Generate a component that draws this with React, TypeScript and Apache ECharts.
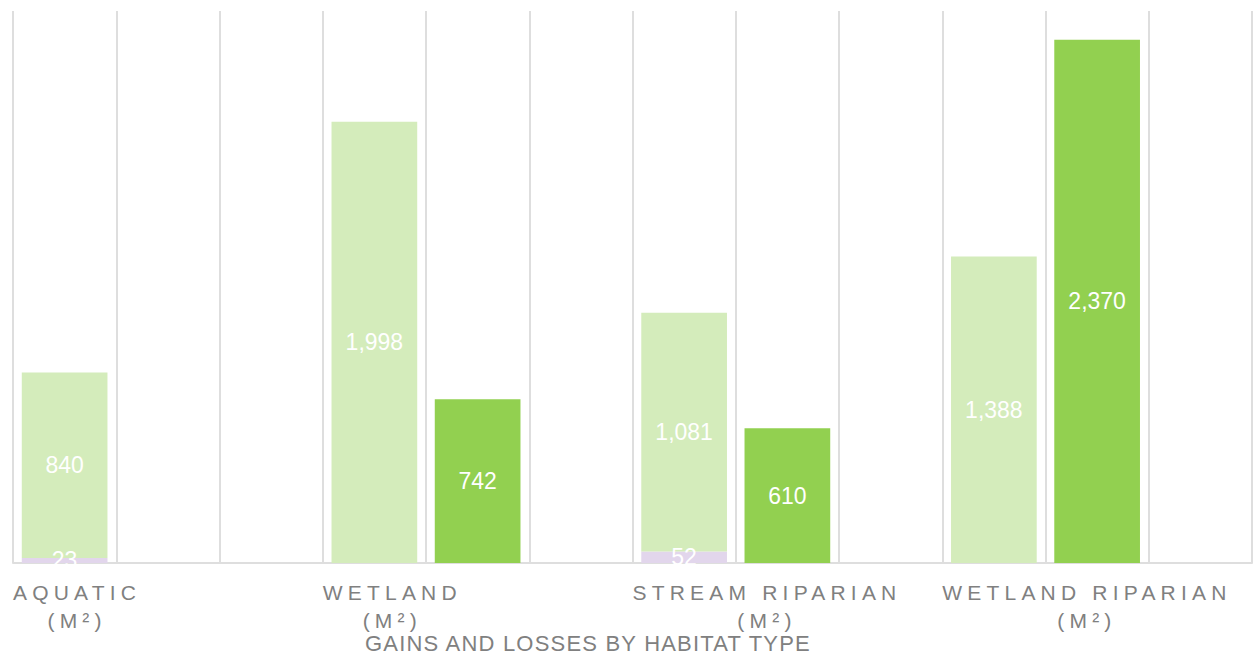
import React, { useEffect, useRef } from 'react';
import * as echarts from 'echarts';

const categories = ['AQUATIC', 'WETLAND', 'STREAM RIPARIAN', 'WETLAND RIPARIAN'];
const unitLabel = '(M²)';
const losses: (number | null)[] = [23, null, 52, null];
const gainsBefore: (number | null)[] = [840, 1998, 1081, 1388];
const gainsAfter: (number | null)[] = [null, 742, 610, 2370];
const chartTitle = 'GAINS AND LOSSES BY HABITAT TYPE';
const slotsPerGroup = 3;
const yMax = 2500;

const FONT = "'Liberation Sans', Arial, sans-serif";
const GREY = '#808080';
const GRID = '#dedede';

function toSlots(values: (number | null)[], offset: number): (number | null)[] {
  const out: (number | null)[] = [];
  values.forEach((v) => {
    for (let i = 0; i < slotsPerGroup; i++) out.push(i === offset ? v : null);
  });
  return out;
}

const slotNames: string[] = [];
categories.forEach((c) => {
  for (let i = 0; i < slotsPerGroup; i++) slotNames.push(`${c}-${i}`);
});

const fmt = (p: any) =>
  p.value == null || p.value === '' ? '' : Number(p.value).toLocaleString('en-US');

const barLabel = {
  show: true,
  position: 'inside',
  color: '#ffffff',
  fontSize: 23,
  fontFamily: FONT,
  formatter: fmt,
};

export default function App() {
  const ref = useRef<HTMLDivElement>(null);

  useEffect(() => {
    if (!ref.current) return;
    const chart = echarts.init(ref.current, undefined, { renderer: 'svg' });
    chart.setOption({
      animation: false,
      backgroundColor: '#ffffff',
      title: {
        text: chartTitle,
        left: 365,
        top: 632,
        padding: 0,
        textStyle: { fontSize: 22, fontWeight: 'normal', color: GREY, fontFamily: FONT },
      },
      grid: { left: 13, right: 1, top: 11, bottom: 93, containLabel: false },
      xAxis: [
        {
          type: 'category',
          data: slotNames,
          position: 'bottom',
          axisLine: { show: true, lineStyle: { color: GRID, width: 2 } },
          axisTick: { show: false, interval: 0 },
          axisLabel: { show: false, interval: 0 },
          splitLine: { show: true, interval: 0, lineStyle: { color: GRID, width: 2 } },
        },
        {
          type: 'value',
          position: 'bottom',
          min: 0,
          max: categories.length * slotsPerGroup,
          interval: slotsPerGroup,
          axisLine: { show: false },
          axisTick: { show: false },
          splitLine: { show: false },
          axisLabel: {
            show: true,
            align: 'left',
            margin: 15,
            showMaxLabel: false,
            formatter: (v: number) => {
              const i = Math.round(v / slotsPerGroup);
              return i < categories.length ? `{a|${categories[i]}}\n{b|${unitLabel}}` : '';
            },
            rich: {
              a: { fontSize: 21, color: GREY, fontFamily: FONT, lineHeight: 28 },
              b: { fontSize: 21, color: GREY, fontFamily: FONT, lineHeight: 28, align: 'center' },
            },
          },
        },
      ],
      yAxis: {
        type: 'value',
        min: 0,
        max: yMax,
        show: false,
        splitLine: { show: false },
      },
      series: [
        {
          name: 'Losses',
          type: 'bar',
          stack: 'all',
          barCategoryGap: '17%',
          data: toSlots(losses, 0),
          itemStyle: { color: '#e2d6ec' },
          label: barLabel,
        },
        {
          name: 'Gains (existing)',
          type: 'bar',
          stack: 'all',
          data: toSlots(gainsBefore, 0),
          itemStyle: { color: '#d4ecbb' },
          label: barLabel,
        },
        {
          name: 'Gains (proposed)',
          type: 'bar',
          stack: 'all',
          data: toSlots(gainsAfter, 1),
          itemStyle: { color: '#92d050' },
          label: barLabel,
        },
      ],
    });

    const applyStyling = () => {
      const root = ref.current;
      if (!root) return;
      const texts = Array.from(root.querySelectorAll('text')) as SVGTextElement[];
      const firsts = texts.filter((t) => categories.includes((t.textContent || '').trim()));
      const seconds = texts.filter((t) => (t.textContent || '').trim() === unitLabel);
      [...firsts, ...seconds].forEach((t) => (t.style.letterSpacing = '5.2px'));
      texts
        .filter((t) => (t.textContent || '').trim() === chartTitle)
        .forEach((t) => (t.style.letterSpacing = '1.2px'));
      const byLeft = (a: Element, b: Element) =>
        a.getBoundingClientRect().left - b.getBoundingClientRect().left;
      firsts.sort(byLeft);
      seconds.sort(byLeft);
      seconds.forEach((el, i) => {
        const f = firsts[i];
        if (!f || (el as any).dataset.shifted) return;
        const r1 = f.getBoundingClientRect();
        const r2 = el.getBoundingClientRect();
        const dx = r1.left + r1.width / 2 - (r2.left + r2.width / 2);
        const old = el.getAttribute('transform') || '';
        el.setAttribute('transform', `translate(${dx.toFixed(2)} 0) ${old}`.trim());
        (el as any).dataset.shifted = '1';
      });
    };
    applyStyling();
    const raf = requestAnimationFrame(applyStyling);

    return () => {
      cancelAnimationFrame(raf);
      chart.dispose();
    };
  }, []);

  return (
    <div
      ref={ref}
      style={{ position: 'absolute', left: 0, top: 0, width: 1253, height: 656 }}
    />
  );
}
